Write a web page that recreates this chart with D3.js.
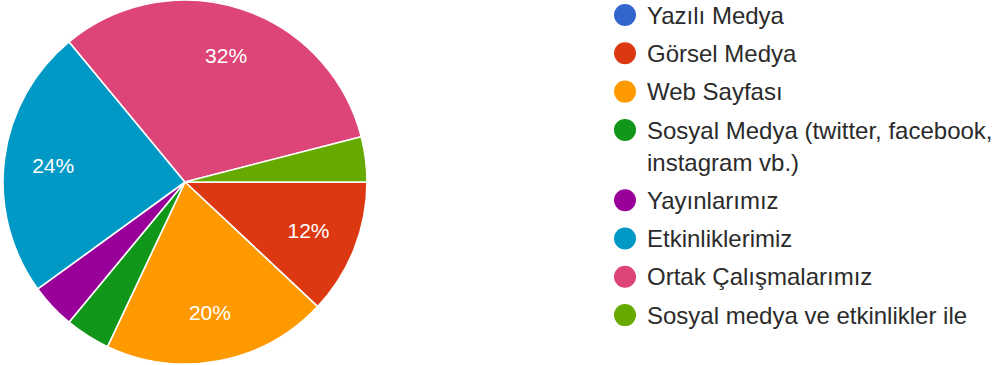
<!DOCTYPE html>
<html>
<head>
<meta charset="utf-8">
<script src="https://cdn.jsdelivr.net/npm/d3@7"></script>
<style>
  html, body { margin: 0; padding: 0; background: #fff; }
  svg { display: block; }
</style>
</head>
<body>
<svg id="chart" width="999" height="365"></svg>
<script>
// Survey answers: how people hear about us
const categories = [
  "Yazılı Medya",
  "Görsel Medya",
  "Web Sayfası",
  "Sosyal Medya (twitter, facebook, instagram vb.)",
  "Yayınlarımız",
  "Etkinliklerimiz",
  "Ortak Çalışmalarımız",
  "Sosyal medya ve etkinlikler ile"
];
const counts = [0, 3, 5, 1, 1, 6, 8, 1];
const colors = ["#3366cc", "#dc3912", "#ff9900", "#109618", "#990099", "#0099c6", "#dd4477", "#66aa00"];

const svg = d3.select("#chart");
const W = 999, H = 365;
const cx = 185, cy = 182, R = 182;
const total = d3.sum(counts);
const data = categories.map((c, i) => ({ name: c, value: counts[i], color: colors[i] }));

// Pie: slices run clockwise starting at 3 o'clock
const pie = d3.pie().value(d => d.value).sort(null)
  .startAngle(Math.PI / 2).endAngle(Math.PI / 2 + 2 * Math.PI);
const arcs = pie(data);
const arc = d3.arc().innerRadius(0).outerRadius(R);
const labelArc = d3.arc().innerRadius(R * 0.73).outerRadius(R * 0.73);

const g = svg.append("g").attr("transform", `translate(${cx},${cy})`);
g.selectAll("path.slice")
  .data(arcs.filter(a => a.value > 0))
  .join("path")
  .attr("class", "slice")
  .attr("d", arc)
  .attr("fill", d => d.data.color)
  .attr("stroke", "#fff")
  .attr("stroke-width", 1.6)
  .attr("stroke-linejoin", "round");

// Percentage labels on slices that are large enough
g.selectAll("text.pct")
  .data(arcs.filter(a => a.value / total >= 0.05))
  .join("text")
  .attr("class", "pct")
  .attr("transform", d => `translate(${labelArc.centroid(d)})`)
  .attr("text-anchor", "middle")
  .attr("dy", "0.36em")
  .attr("font-family", "Arial, 'Liberation Sans', sans-serif")
  .attr("font-size", 21)
  .attr("fill", "#fff")
  .text(d => Math.round(d.value / total * 100) + "%");

// Legend with word wrapping
const legend = svg.append("g");
const lx = 625, tx = 647, maxW = W - tx - 2;
const itemGap = 38.3, lineH = 32;
let y = 15;
data.forEach(d => {
  const item = legend.append("g");
  item.append("circle")
    .attr("cx", lx).attr("cy", y).attr("r", 11)
    .attr("fill", d.color);
  const text = item.append("text")
    .attr("x", tx)
    .attr("font-family", "Arial, 'Liberation Sans', sans-serif")
    .attr("font-size", 24)
    .attr("fill", "#2b2b2b");
  const words = d.name.split(" ");
  let line = [];
  let lineNo = 0;
  let tspan = text.append("tspan").attr("x", tx).attr("y", y + 8.6);
  words.forEach(w => {
    line.push(w);
    tspan.text(line.join(" "));
    if (tspan.node().getComputedTextLength() > maxW && line.length > 1) {
      line.pop();
      tspan.text(line.join(" "));
      line = [w];
      lineNo++;
      tspan = text.append("tspan").attr("x", tx).attr("y", y + 8.6 + lineNo * lineH).text(w);
    }
  });
  y += itemGap + lineNo * lineH;
});
</script>
</body>
</html>
